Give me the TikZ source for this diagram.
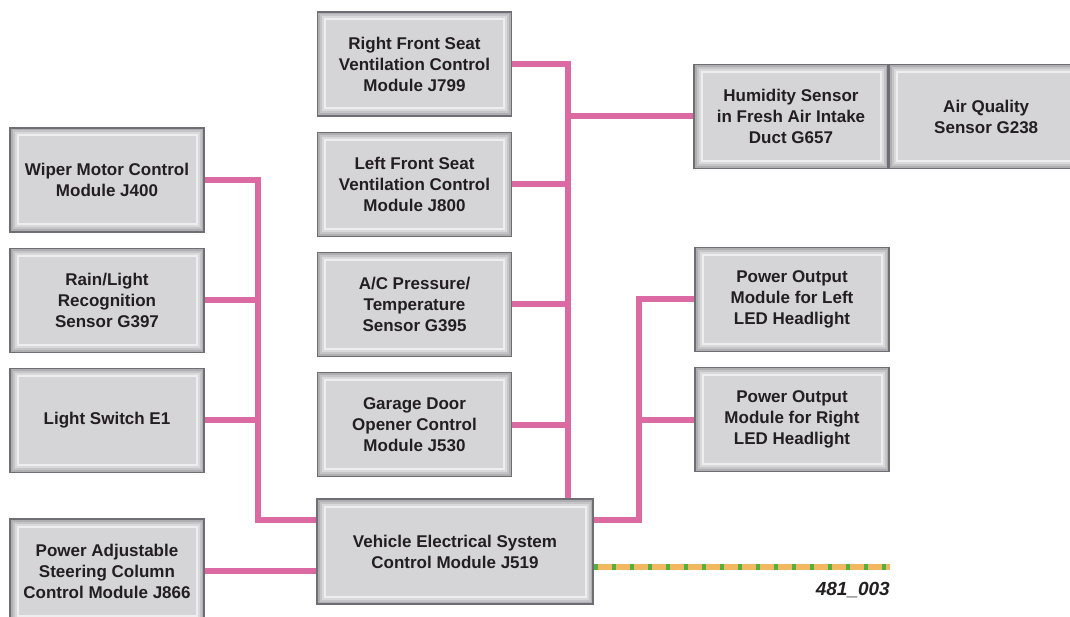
\documentclass[tikz,border=0pt]{standalone}
\usepackage{fontspec}
\setmainfont{Liberation Sans}
\usetikzlibrary{positioning,calc,backgrounds}
\definecolor{kabelrosa}{RGB}{219,106,163}
\definecolor{kastengrau}{RGB}{213,213,215}
\definecolor{randgrau}{RGB}{110,110,116}
\definecolor{massegelb}{RGB}{242,184,96}
\definecolor{massegruen}{RGB}{84,176,60}
\definecolor{textgrau}{RGB}{35,31,32}
\tikzset{
  modul/.style     = {draw=randgrau, line width=1.2pt, fill=kastengrau, align=center,
                      minimum width=194pt, minimum height=104pt, inner sep=2pt,
                      text=textgrau, font=\fontsize{17}{21}\selectfont\bfseries,
                      path picture={
                        \foreach \d/\s in {1.5/55,3.5/40,5.5/26,7.5/12}
                          \draw[line width=2pt, randgrau!\s]
                            ($(path picture bounding box.south west)+(\d pt,\d pt)$) rectangle
                            ($(path picture bounding box.north east)-(\d pt,\d pt)$);}},
  modulbreit/.style = {modul, minimum width=276pt, minimum height=105pt},
  kabel/.style     = {draw=kabelrosa, line width=6pt},
  masse/.style     = {line width=6pt},
  bildnr/.style    = {font=\fontsize{19}{21}\selectfont\bfseries\itshape, text=textgrau,
                      inner sep=0pt}
}
\begin{document}
\begin{tikzpicture}[x=1pt, y=-1pt, node distance=15pt]
		\useasboundingbox (0,0) rectangle (1070,617);
		% left column
		\node[modul] (j400) at (107,180) {Wiper Motor Control\\ Module J400};
		\node[modul, below=of j400] (g397) {Rain/Light\\ Recognition\\ Sensor G397};
		\node[modul, below=of g397] (e1) {Light Switch E1};
		\node[modul] (j866) at (107,571) {Power Adjustable\\ Steering Column\\ Control Module J866};
		% middle column
		\node[modul] (j799) at (414.5,64) {Right Front Seat\\ Ventilation Control\\ Module J799};
		\node[modul, below=of j799] (j800) {Left Front Seat\\ Ventilation Control\\ Module J800};
		\node[modul, below=of j800] (g395) {A/C Pressure/\\ Temperature\\ Sensor G395};
		\node[modul, below=of g395] (j530) {Garage Door\\ Opener Control\\ Module J530};
		\node[modulbreit] (j519) at (455,551.5) {Vehicle Electrical System\\ Control Module J519};
		% right column
		\node[modul] (g657) at (791,116.5) {Humidity Sensor\\ in Fresh Air Intake\\ Duct G657};
		\node[modul, right=0pt of g657] (g238) {Air Quality\\ Sensor G238};
		\node[modul] (ledl) at (792,299.5) {Power Output\\ Module for Left\\ LED Headlight};
		\node[modul, below=of ledl] (ledr) {Power Output\\ Module for Right\\ LED Headlight};

		\coordinate (bl) at (258,520);
		\coordinate (bm) at (568,0);
		\coordinate (br) at (639,520);
		\coordinate (gnd) at (890,567);

		\begin{scope}[on background layer]
			\draw[kabel] (j400.east) -| (bl) -- (bl -| j519.west);
			\draw[kabel] (g397.east) -- (g397.east -| bl);
			\draw[kabel] (e1.east) -- (e1.east -| bl);
			\draw[kabel] (j866.east) -- (j866.east -| j519.west);
			\draw[kabel] (j799.east) -| (bm |- j519.north);
			\draw[kabel] (j800.east) -- (j800.east -| bm);
			\draw[kabel] (g395.east) -- (g395.east -| bm);
			\draw[kabel] (j530.east) -- (j530.east -| bm);
			\draw[kabel] (g657.west) -- (g657.west -| bm);
			\draw[kabel] (ledl.west) -| (br) -- (br -| j519.east);
			\draw[kabel] (ledr.west) -- (ledr.west -| br);
			% ground line
			\draw[masse, massegelb] (j519.east |- gnd) -- (gnd);
			\draw[masse, massegruen, dash pattern=on 4pt off 14pt] (j519.east |- gnd) -- (gnd);
		\end{scope}

		\node[bildnr, anchor=north east] (nr) at ($(gnd)+(0,15)$) {481\_003};
	\end{tikzpicture}
\end{document}
